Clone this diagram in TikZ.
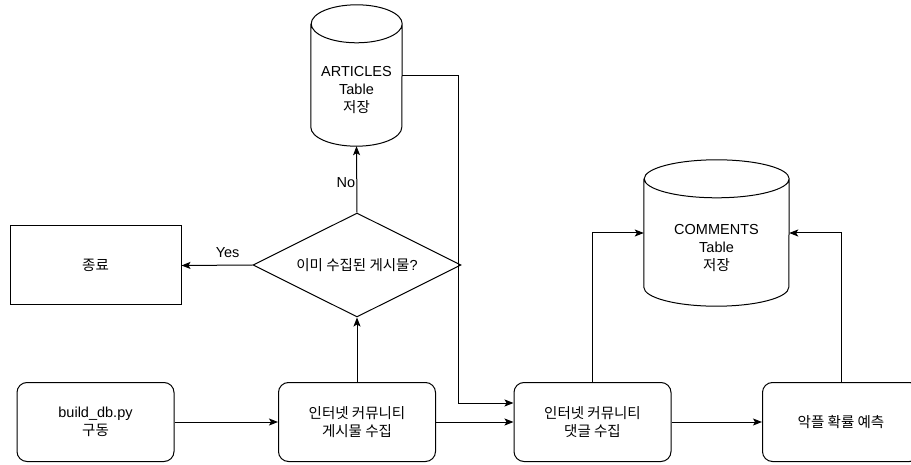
\documentclass[tikz,border=0pt]{standalone}
\usepackage{fontspec}
\setmainfont{Liberation Sans}
\newfontfamily\kr{Noto Sans CJK KR}
\usetikzlibrary{shapes.geometric,arrows.meta}

\tikzset{
	stepbox/.style={draw, rounded corners=10pt, minimum width=157pt, minimum height=79pt, align=center, line width=1pt},
	endbox/.style={draw, minimum width=171pt, minimum height=79pt, line width=1pt},
	decision/.style={draw, diamond, aspect=2, minimum width=208pt, minimum height=104pt, inner sep=0pt, line width=1pt},
	dbbox/.style={minimum width=91pt, minimum height=141pt, inner sep=0pt},
	dbtext/.style={align=center},
	arrow/.style={-{Stealth[length=9pt,width=7pt,inset=2pt]}, line width=1pt},
	branch/.style={inner sep=1pt},
}

% cylinder drawn round a named node: name, x radius
\newcommand{\DBSHAPE}[2]{%
	\draw[line width=1pt, fill=white] ([yshift=-19pt]#1.north west) -- ([yshift=19pt]#1.south west)
		arc[start angle=180, end angle=360, x radius=#2, y radius=19pt]
		-- ([yshift=-19pt]#1.north east)
		arc[start angle=0, end angle=180, x radius=#2, y radius=19pt]
		arc[start angle=180, end angle=360, x radius=#2, y radius=19pt];}

\begin{document}
\begin{tikzpicture}[x=1pt, y=-1pt, font=\fontsize{14.5}{18}\selectfont]
	\useasboundingbox (0,0) rectangle (911,465);

	% bottom row
	\node[stepbox] (start) at (95.5,422) {build\_db.py\\{\kr 구동}};
	\node[stepbox] (posts) at (357,422) {{\kr 인터넷 커뮤니티}\\{\kr 게시물 수집}};
	\node[stepbox] (replies) at (592.5,422) {{\kr 인터넷 커뮤니티}\\{\kr 댓글 수집}};
	\node[stepbox] (predict) at (841,422) {{\kr 악플 확률 예측}};

	% decision and end
	\node[decision] (check) at (357,265) {{\kr 이미 수집된 게시물}?};
	\node[endbox] (finish) at (95.5,265.5) {{\kr 종료}};

	% tables
	\node[dbbox] (articles) at (356.5,75.5) {};
	\DBSHAPE{articles}{45.5pt}
	\node[dbtext] (articleslabel) at ([yshift=-15pt]articles.center) {ARTICLES\\Table\\{\kr 저장}};
	\node[dbbox, minimum width=145pt, minimum height=146pt] (commentsdb) at (716.5,233) {};
	\DBSHAPE{commentsdb}{72.5pt}
	\node[dbtext] (commentslabel) at ([yshift=-15pt]commentsdb.center) {COMMENTS\\Table\\{\kr 저장}};

	% connectors
	\draw[arrow] (start) -- (posts);
	\draw[arrow] (posts.north) -- (check.south);
	\draw[arrow] (check.north) -- node[pos=0.45, left, branch] {No} (articles.south);
	\draw[arrow] (check.west) -- node[pos=0.35, above=6pt, branch] {Yes} (finish.east);
	\draw[arrow] (articles.east) -- ++(56,0) |- ([yshift=19pt]replies.west);
	\draw[arrow] (posts) -- (replies);
	\draw[arrow] (replies.north) |- (commentsdb.west);
	\draw[arrow] (predict.north) |- (commentsdb.east);
	\draw[arrow] (replies) -- (predict);

\end{tikzpicture}
\end{document}
